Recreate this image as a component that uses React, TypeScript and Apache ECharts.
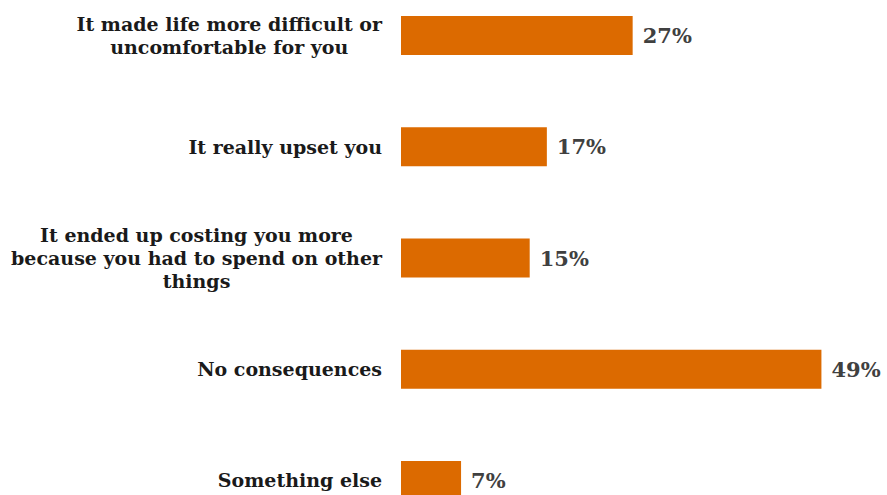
import React, { useEffect, useRef } from "react";
import * as echarts from "echarts";

const categories: string[] = [
  "It made life more difficult or\nuncomfortable for you",
  "It really upset you",
  "It ended up costing you more\nbecause you had to spend on other\nthings",
  "No consequences",
  "Something else",
];
const values: number[] = [27, 17, 15, 49, 7];

const FONT = "'DejaVu Serif', serif";

export default function App() {
  const ref = useRef<HTMLDivElement>(null);
  useEffect(() => {
    if (!ref.current) return;
    const chart = echarts.init(ref.current, null, { renderer: "svg" });
    chart.setOption({
      animation: false,
      backgroundColor: "#ffffff",
      grid: { left: 401, top: 0, width: 429, bottom: 0, containLabel: false },
      xAxis: {
        type: "value",
        min: 0,
        max: 50,
        show: false,
      },
      yAxis: {
        type: "category",
        inverse: true,
        data: categories,
        axisLine: { show: false },
        axisTick: { show: false },
        splitLine: { show: false },
        axisLabel: {
          margin: 19,
          formatter: (v: string) =>
            v
              .split("\n")
              .map((l) => `{c|${l}}`)
              .join("\n"),
          rich: {
            c: {
              align: "center",
              fontFamily: FONT,
              fontWeight: "bold",
              fontSize: 19,
              lineHeight: 23,
              color: "#1a1a1a",
            },
          },
        },
      },
      series: [
        {
          type: "bar",
          data: values,
          barWidth: 39,
          itemStyle: { color: "#DC6A00" },
          label: {
            show: true,
            position: "right",
            distance: 10,
            formatter: "{c}%",
            fontFamily: FONT,
            fontWeight: "bold",
            fontSize: 21,
            color: "#404040",
          },
        },
      ],
    });
    return () => chart.dispose();
  }, []);
  return (
    <div
      ref={ref}
      style={{ position: "fixed", left: 0, top: -20, width: 887, height: 556 }}
    />
  );
}
